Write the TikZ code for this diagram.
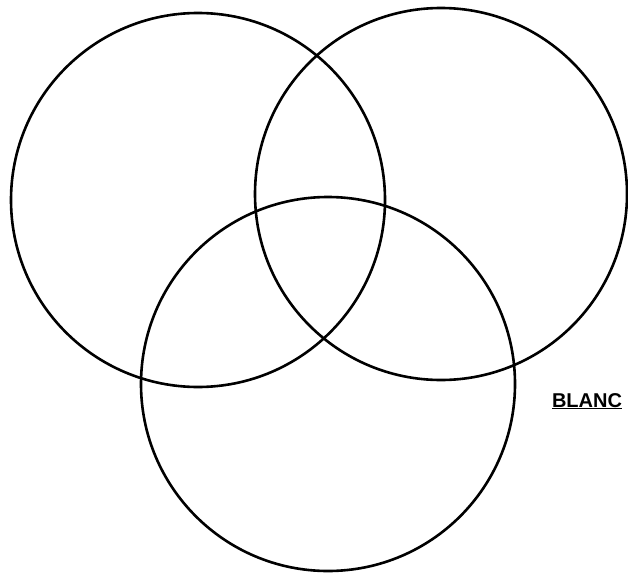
\documentclass[tikz,border=0pt]{standalone}
\usepackage{fontspec}
\setsansfont{Liberation Sans}
\begin{document}
\begin{tikzpicture}[x=1pt,y=-1pt,line width=2.6pt]
\useasboundingbox (0,0) rectangle (628,575);
\draw (198,200) circle (187pt);
\draw (441,194) circle (186pt);
\draw (328,384) circle (187pt);
\node[anchor=base,inner sep=0pt,font=\sffamily\bfseries\fontsize{20}{20}\selectfont] (blanc) at (587,407) {\underline{BLANC}};
\end{tikzpicture}
\end{document}
